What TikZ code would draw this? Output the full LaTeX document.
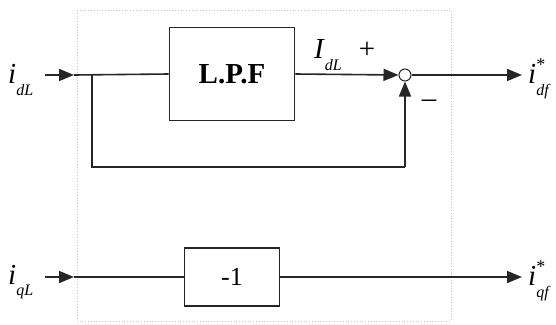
\documentclass[tikz,border=0pt]{standalone}
\usepackage{fontspec}
\setmainfont{Liberation Serif}
\usetikzlibrary{arrows.meta}
\newcommand{\lbl}[3]{\textit{#1}\rlap{\raisebox{0.45em}{\fontsize{18}{18}\selectfont #3}}\raisebox{-0.4em}{\fontsize{16}{16}\selectfont\textit{#2}}}
\begin{document}
\begin{tikzpicture}[x=1pt,y=-1pt,
  wire/.style={line width=1.6pt,draw=black!85},
  arr/.style={wire,-{Triangle[length=15pt,width=12pt]}},
  blk/.style={draw=black!85,line width=1.6pt,minimum width=#1},
  lab/.style={font=\fontsize{29}{29}\selectfont,inner sep=0pt}]
\useasboundingbox (0,0) rectangle (556,324);
\draw[gray!45,dotted,line width=0.8pt] (77,10) rectangle (451,321);
% upper row
\node[lab,anchor=west] (in1) at (8,80) {\lbl{i}{dL}{}};
\coordinate (s1) at (45,75);
\coordinate (j1) at (74,75);
\coordinate (b1) at (92,75);
\node[blk=125pt,minimum height=93pt,font=\fontsize{29}{29}\selectfont\bfseries] (lpf) at (232,74) {L.P.F};
\node[draw=black!85,line width=1pt,circle,minimum size=12pt,inner sep=0pt,fill=white] (sum) at (405,75) {};
\coordinate (o1) at (522,75);
\coordinate (c1) at (92,167);
\coordinate (c2) at (405,167);
\draw[arr] (s1) -- (j1);
\draw[wire] (j1) -- (lpf.west);
\draw[arr] (lpf.east) -- (sum.west);
\draw[arr] (sum.east) -- (o1);
\draw[wire] (b1) -- (c1) -- (c2);
\draw[arr] (c2) -- (sum.south);
\node[lab,anchor=west] (Idl) at (314,55) {\textit{I}\raisebox{-0.4em}{\fontsize{16}{16}\selectfont\textit{dL}}};
\node[lab] (plus) at (367,50) {+};
\node[lab] (minus) at (429,104) {–};
\node[lab,anchor=west] (out1) at (528,79) {\lbl{i}{df}{*}};
% lower row
\node[lab,anchor=west] (in2) at (8,282) {\lbl{i}{qL}{}};
\coordinate (s2) at (45,277);
\coordinate (j2) at (74,277);
\node[blk=95pt,minimum height=58pt,font=\fontsize{26}{26}\selectfont] (neg) at (232,277) {-1};
\coordinate (o2) at (522,277);
\draw[arr] (s2) -- (j2);
\draw[wire] (j2) -- (neg.west);
\draw[arr] (neg.east) -- (o2);
\node[lab,anchor=west] (out2) at (528,281) {\lbl{i}{qf}{*}};
\end{tikzpicture}
\end{document}
